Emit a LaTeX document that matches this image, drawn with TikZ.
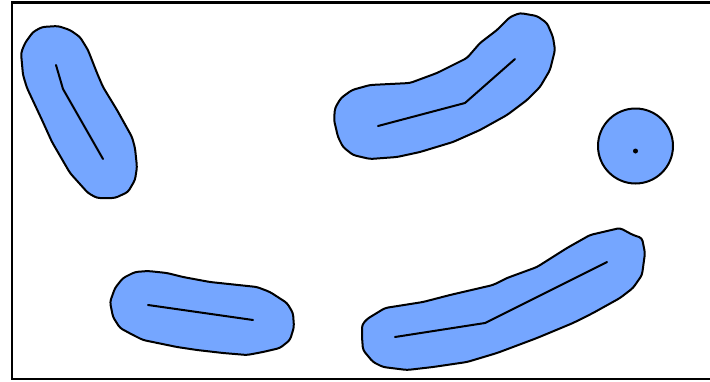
\documentclass[tikz,border=0pt]{standalone}
\definecolor{blobblue}{RGB}{117,166,255}
\tikzset{
  blob/.style={fill=blobblue, draw=black, line width=2pt, line join=round, rounded corners=3pt},
  axis/.style={draw=black, line width=2pt, line cap=round, line join=round},
  frame/.style={draw=black, line width=2.5pt}
}
\begin{document}
\begin{tikzpicture}[x=1pt,y=-1pt]
\useasboundingbox (0,0) rectangle (710,381);
\draw[frame] (715,2.5) -- (12,2.5) -- (12,379) -- (715,379);
% blob 1
\draw[blob] (21,53) -- (25,43) -- (33,32) -- (42,27) -- (58,26) -- (70,30) -- (80,37) -- (88,50) -- (97,73) -- (103,87) -- (117,110) -- (132,137) -- (135,148) -- (137,167) -- (135,180) -- (128,192) -- (115,198) -- (97,198) -- (88,193) -- (70,173) -- (52,142) -- (42,120) -- (27,88) -- (23,75) -- cycle;
\draw[axis] (56,65) -- (63,89) -- (103,159);
% blob 2
\draw[blob] (335,108) -- (341,98) -- (352,90) -- (370,85) -- (410,83) -- (437,73) -- (467,58) -- (480,43) -- (497,30) -- (510,17) -- (520,13) -- (537,16) -- (547,23) -- (553,37) -- (555,50) -- (550,70) -- (540,87) -- (527,100) -- (507,115) -- (480,130) -- (453,142) -- (420,152) -- (397,157) -- (370,159) -- (353,155) -- (343,147) -- (338,137) -- (334,120) -- cycle;
\draw[axis] (378,126) -- (465,103) -- (515,59);
% circle
\draw[blob] (635.5,146) circle[radius=37.5];
\fill (635.5,151) circle[radius=2.5];
% blob 4
\draw[blob] (110,302) -- (115,288) -- (123,278) -- (135,272) -- (148,271) -- (167,273) -- (183,277) -- (210,282) -- (257,287) -- (270,292) -- (287,303) -- (293,313) -- (294,327) -- (290,340) -- (280,348) -- (263,352) -- (247,355) -- (223,353) -- (197,350) -- (177,347) -- (143,340) -- (133,335) -- (120,328) -- (113,317) -- cycle;
\draw[axis] (148,305) -- (253,320);
% blob 5
\draw[blob] (362,325) -- (367,319) -- (385,308) -- (423,302) -- (450,295) -- (493,285) -- (507,278) -- (537,267) -- (567,248) -- (590,235) -- (620,228) -- (633,235) -- (642,238) -- (645,253) -- (642,275) -- (633,288) -- (620,298) -- (593,313) -- (573,323) -- (537,338) -- (497,353) -- (467,362) -- (433,367) -- (407,370) -- (383,367) -- (373,362) -- (363,350) -- (362,337) -- cycle;
\draw[axis] (395,337) -- (485,323) -- (607,262);
\end{tikzpicture}
\end{document}
